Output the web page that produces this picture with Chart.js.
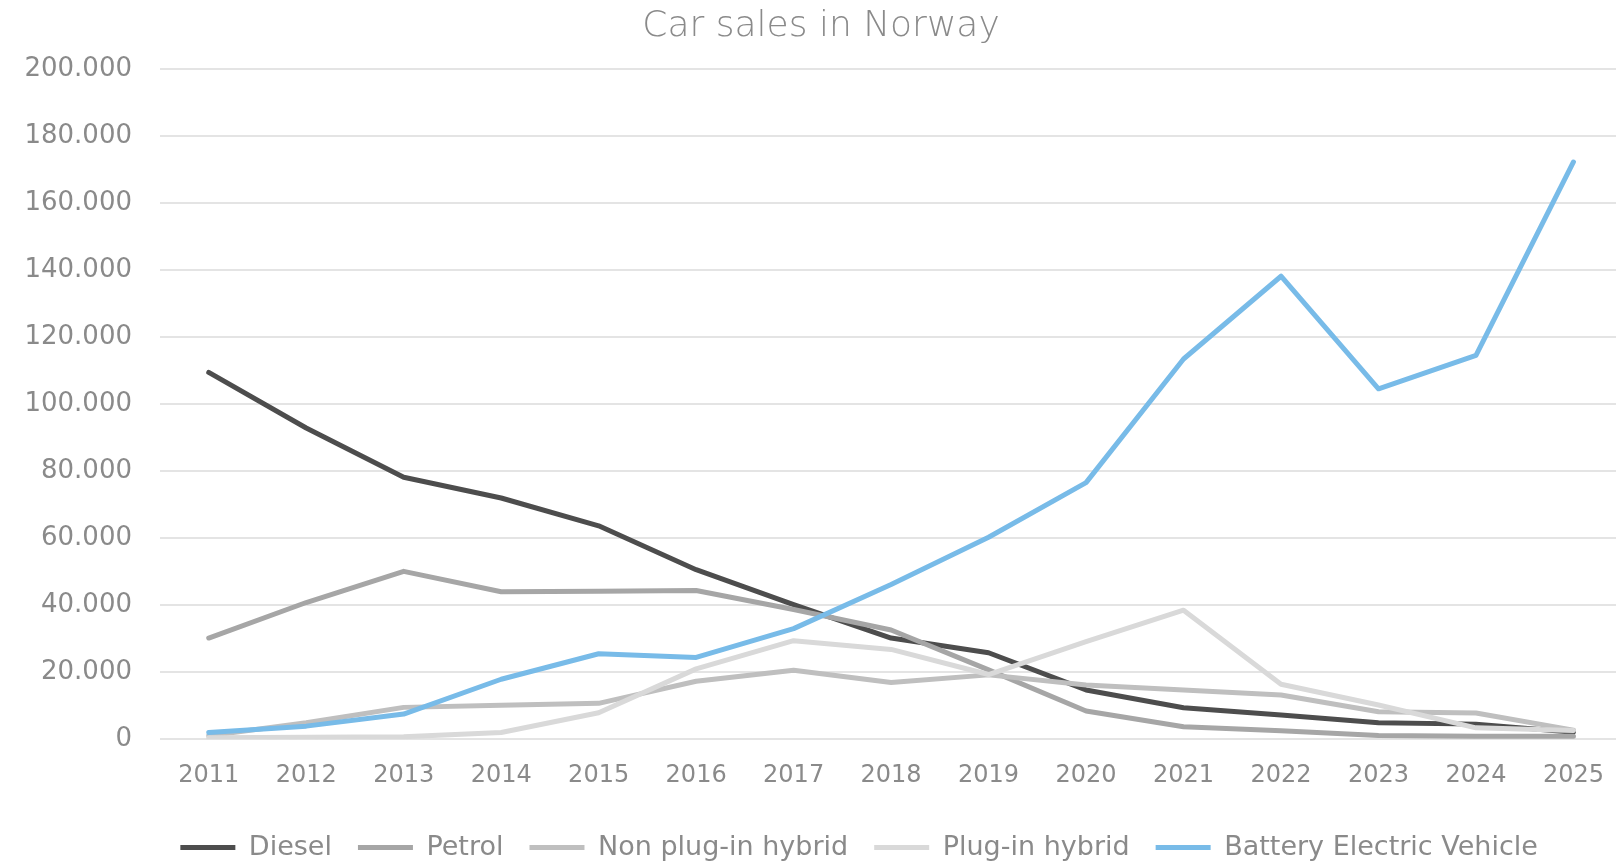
<!DOCTYPE html>
<html>
<head>
<meta charset="utf-8">
<script src="https://cdn.jsdelivr.net/npm/chart.js@4.4.0/dist/chart.umd.min.js"></script>
<style>
    body { margin: 0; background: #fff; overflow: hidden; }
    #wrap { width: 1616px; height: 864px; overflow: hidden; }
</style>
</head>
<body>
<div id="wrap"><canvas id="carChart" width="1626" height="864"></canvas></div>
<script>
const years = ['2011', '2012', '2013', '2014', '2015', '2016', '2017', '2018', '2019', '2020', '2021', '2022', '2023', '2024', '2025'];
const diesel = [109500, 92900, 78200, 72000, 63700, 50600, 40200, 30200, 25800, 14700, 9400, 7200, 4900, 4500, 2100];
const petrol = [30200, 40800, 50100, 44000, 44200, 44400, 38700, 32600, 20700, 8400, 3700, 2500, 1100, 900, 900];
const nonPlugHybrid = [1000, 4900, 9500, 10100, 10700, 17300, 20600, 16900, 19200, 16200, 14700, 13200, 8200, 7800, 2700];
const plugHybrid = [400, 600, 700, 2000, 7900, 21000, 29400, 26800, 19300, 29100, 38500, 16400, 10200, 3400, 2600];
const bev = [2000, 3900, 7500, 17900, 25500, 24400, 33000, 46200, 60300, 76600, 113500, 138200, 104600, 114600, 172300];
const yTicks = [0, 20000, 40000, 60000, 80000, 100000, 120000, 140000, 160000, 180000, 200000];

const fontFamily = '"DejaVu Sans", sans-serif';
const textColor = '#8a8a8a';

function makeSeries(label, data, color, order) {
    return {
        label: label,
        data: data,
        borderColor: color,
        backgroundColor: color,
        borderWidth: 5,
        borderCapStyle: 'round',
        borderJoinStyle: 'round',
        pointRadius: 0,
        tension: 0,
        fill: false,
        order: order
    };
}

// nudge legend left and title right, like the original
const blockShift = {
    id: 'blockShift',
    afterLayout(chart) {
        chart.legend.left -= 32;
        chart.legend.right -= 32;
        chart.titleBlock.left += 8;
        chart.titleBlock.right += 8;
    }
};

const data = {
    labels: years,
    datasets: [
        makeSeries('Diesel', diesel, '#4d4d4d', 5),
        makeSeries('Petrol', petrol, '#a6a6a6', 4),
        makeSeries('Non plug-in hybrid', nonPlugHybrid, '#bfbfbf', 3),
        makeSeries('Plug-in hybrid', plugHybrid, '#d9d9d9', 2),
        makeSeries('Battery Electric Vehicle', bev, '#78bbe8', 1)
    ]
};

const config = {
    type: 'line',
    data: data,
    plugins: [blockShift],
    options: {
        responsive: false,
        animation: false,
        layout: { padding: { left: 0, right: 0, top: 0, bottom: -7 } },
        plugins: {
            title: {
                display: true,
                text: 'Car sales in Norway',
                color: textColor,
                font: { family: fontFamily, size: 36, weight: '300' },
                padding: { top: 5, bottom: 21 }
            },
            legend: {
                position: 'bottom',
                fullSize: false,
                labels: {
                    usePointStyle: true,
                    pointStyle: 'line',
                    pointStyleWidth: 55,
                    color: textColor,
                    padding: 26,
                    font: { family: fontFamily, size: 27 },
                    sort: (a, b) => a.datasetIndex - b.datasetIndex
                }
            },
            tooltip: { enabled: false }
        },
        scales: {
            x: {
                offset: true,
                afterFit: function (scale) { scale.height -= 4; },
                grid: { display: false, drawTicks: false },
                border: { display: false },
                ticks: {
                    color: textColor,
                    font: { family: fontFamily, size: 24 },
                    padding: 22,
                    maxRotation: 0
                }
            },
            y: {
                min: 0,
                max: 200000,
                afterFit: function (scale) { scale.width = 160; },
                afterBuildTicks: function (scale) { scale.ticks = yTicks.map(v => ({ value: v })); },
                grid: { color: '#e4e4e4', lineWidth: 2, drawTicks: false },
                border: { display: false },
                ticks: {
                    color: textColor,
                    font: { family: fontFamily, size: 26 },
                    padding: 28,
                    callback: v => v.toLocaleString('de-DE')
                }
            }
        }
    }
};

new Chart(document.getElementById('carChart'), config);
</script>
</body>
</html>
